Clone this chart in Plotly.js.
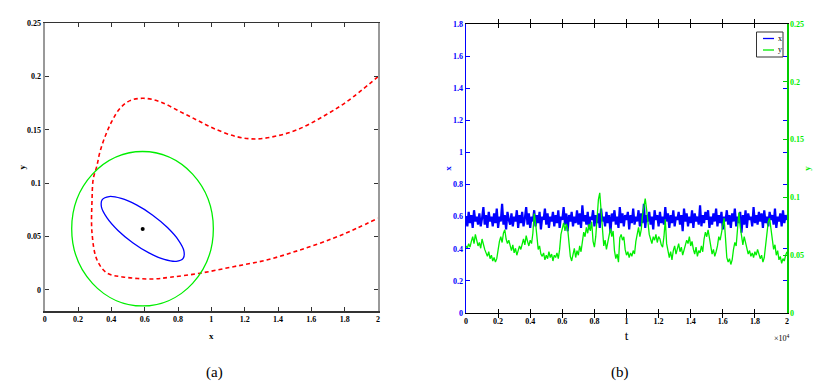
<!DOCTYPE html>
<html><head><meta charset="utf-8">
<script src="https://cdn.plot.ly/plotly-3.0.1.min.js"></script>
<style>html,body{margin:0;padding:0;background:#fff}#plot{width:833px;height:387px}</style>
</head><body><div id="plot"></div>
<script>
// ---------- Panel (a) data ----------
const redX = [2.0,1.812,1.652,1.512,1.392,1.272,1.152,1.012,0.912,0.812,0.692,0.592,0.512,0.452,0.402,0.362,0.332,0.312,0.292,0.284,0.284,0.314,0.374,0.470,0.642,0.752,0.932,1.132,1.332,1.532,1.732,1.872,2.0];
const redY = [0.200,0.1765,0.161,0.150,0.1444,0.1416,0.1437,0.1516,0.1594,0.1672,0.1765,0.1797,0.1775,0.1703,0.1578,0.1437,0.1297,0.1156,0.1047,0.0844,0.0534,0.0281,0.0159,0.0122,0.0103,0.0119,0.0157,0.0218,0.0281,0.0375,0.0485,0.0578,0.0672];
const blueEllX = [0.8308,0.7894,0.7173,0.6256,0.5281,0.4397,0.3740,0.3408,0.3453,0.3867,0.4589,0.5506,0.6481,0.7365,0.8021,0.8353,0.8308];
const blueEllY = [0.0296,0.0268,0.0286,0.0347,0.0443,0.0558,0.0676,0.0777,0.0847,0.0876,0.0858,0.0797,0.0701,0.0585,0.0468,0.0367,0.0296];
const greenEllCenter = [0.587, 0.0574];
const greenEllRadii = [0.425, 0.0724];
const equilibrium = [0.588, 0.0572];

// ---------- Panel (b) data ----------
const tMax = 2; // in units of 10^4
const xSeries = [
0.60,0.54,0.63,0.56,0.61,0.53,0.64,0.57,0.60,0.55,
0.62,0.54,0.59,0.66,0.55,0.61,0.53,0.63,0.57,0.60,
0.54,0.62,0.56,0.65,0.53,0.60,0.57,0.68,0.55,0.61,
0.52,0.63,0.58,0.55,0.62,0.54,0.60,0.57,0.64,0.53,
0.61,0.56,0.63,0.54,0.59,0.66,0.55,0.62,0.53,0.60,
0.57,0.64,0.54,0.61,0.56,0.63,0.52,0.60,0.58,0.65,
0.55,0.62,0.53,0.60,0.57,0.63,0.54,0.61,0.56,0.64,
0.53,0.60,0.58,0.66,0.55,0.62,0.51,0.61,0.57,0.63,
0.54,0.60,0.56,0.64,0.55,0.62,0.53,0.67,0.57,0.61,
0.55,0.63,0.52,0.60,0.58,0.64,0.54,0.61,0.56,0.62,
0.53,0.65,0.57,0.60,0.54,0.63,0.56,0.61,0.50,0.62,
0.57,0.64,0.55,0.60,0.53,0.66,0.56,0.62,0.54,0.61,
0.58,0.63,0.52,0.61,0.56,0.65,0.55,0.60,0.57,0.64,
0.54,0.62,0.56,0.68,0.53,0.61,0.57,0.63,0.55,0.60,
0.52,0.64,0.58,0.61,0.54,0.63,0.56,0.60,0.55,0.66,
0.57,0.62,0.53,0.61,0.56,0.64,0.54,0.60,0.58,0.63,
0.55,0.61,0.51,0.65,0.57,0.62,0.54,0.60,0.56,0.64,
0.53,0.62,0.57,0.60,0.55,0.67,0.54,0.61,0.56,0.63,
0.58,0.64,0.53,0.60,0.55,0.62,0.57,0.65,0.54,0.61,
0.56,0.63,0.52,0.60,0.57,0.64,0.55,0.61,0.53,0.62,
0.57,0.65,0.54,0.60,0.56,0.63,0.50,0.61,0.55,0.64,
0.53,0.62,0.58,0.60,0.54,0.66,0.56,0.61,0.55,0.63,
0.57,0.62,0.53,0.64,0.56,0.60,0.54,0.63,0.58,0.61,
0.55,0.65,0.53,0.60,0.57,0.62,0.54,0.64,0.56,0.61,
0.58];
const ySeries = [
0.058,0.056,0.060,0.057,0.062,0.066,0.060,0.068,0.063,0.058,
0.061,0.056,0.064,0.058,0.055,0.052,0.049,0.053,0.047,0.050,
0.045,0.048,0.044,0.047,0.055,0.062,0.066,0.061,0.069,0.072,
0.064,0.060,0.063,0.057,0.054,0.059,0.052,0.056,0.050,0.054,
0.058,0.055,0.061,0.064,0.059,0.067,0.062,0.058,0.063,0.060,
0.069,0.086,0.078,0.063,0.055,0.058,0.051,0.049,0.052,0.046,
0.050,0.047,0.053,0.048,0.051,0.045,0.050,0.048,0.052,0.047,
0.055,0.068,0.074,0.078,0.071,0.077,0.073,0.058,0.049,0.045,
0.051,0.056,0.048,0.054,0.050,0.058,0.053,0.062,0.070,0.066,
0.074,0.069,0.077,0.071,0.079,0.062,0.057,0.066,0.085,0.098,
0.104,0.090,0.070,0.058,0.063,0.055,0.061,0.068,0.073,0.066,
0.071,0.054,0.047,0.051,0.044,0.065,0.068,0.063,0.066,0.055,
0.050,0.053,0.048,0.052,0.049,0.054,0.051,0.062,0.068,0.074,
0.066,0.072,0.085,0.093,0.099,0.090,0.078,0.068,0.064,0.060,
0.066,0.063,0.068,0.061,0.066,0.064,0.059,0.057,0.066,0.081,
0.060,0.052,0.048,0.053,0.046,0.054,0.058,0.051,0.056,0.060,
0.053,0.057,0.050,0.055,0.059,0.063,0.060,0.066,0.058,0.062,
0.055,0.051,0.057,0.049,0.054,0.052,0.058,0.053,0.064,0.070,
0.066,0.072,0.065,0.056,0.051,0.055,0.049,0.053,0.058,0.066,
0.063,0.069,0.078,0.082,0.065,0.048,0.044,0.047,0.042,0.046,
0.055,0.061,0.058,0.072,0.087,0.075,0.064,0.059,0.066,0.060,
0.055,0.051,0.054,0.049,0.052,0.048,0.053,0.050,0.055,0.051,
0.047,0.050,0.044,0.048,0.058,0.070,0.079,0.082,0.074,0.062,
0.055,0.059,0.050,0.054,0.046,0.049,0.043,0.047,0.045,0.050,
0.053];
const legendNames = ['x','y'];

// ---------- layout helpers (pixel -> paper) ----------
const W = 833, H = 387;
const fx = p => p / W;
const fy = p => 1 - p / H;
const serif = 'Liberation Serif, Times New Roman, serif';
const tf = (c) => ({family: serif, size: 8, color: c, weight: 'bold'});

const traces = [
  {x: redX, y: redY, xaxis: 'x', yaxis: 'y', mode: 'lines', type: 'scatter',
   line: {color: '#ff0000', width: 1.6, dash: '4px,3px', shape: 'spline', smoothing: 1}},
  {x: blueEllX, y: blueEllY, xaxis: 'x', yaxis: 'y', mode: 'lines', type: 'scatter',
   line: {color: '#0000ff', width: 1.3, shape: 'spline', smoothing: 1}},
  {x: [equilibrium[0]], y: [equilibrium[1]], xaxis: 'x', yaxis: 'y', mode: 'markers', type: 'scatter',
   marker: {color: '#000', size: 4}},
  {y: xSeries, x0: 0, dx: tMax / (xSeries.length - 1), xaxis: 'x2', yaxis: 'y2', mode: 'lines', type: 'scatter',
   line: {color: '#0000ff', width: 2.2}},
  {y: ySeries, x0: 0, dx: tMax / (ySeries.length - 1), xaxis: 'x2', yaxis: 'y3', mode: 'lines', type: 'scatter',
   line: {color: '#00ee00', width: 1.3}}
];

const baseAx = {showgrid: false, zeroline: false, ticks: 'inside', ticklen: 4, showline: true, automargin: false};

const layout = {
  width: W, height: H, margin: {l: 0, r: 0, t: 0, b: 0},
  paper_bgcolor: '#fff', plot_bgcolor: '#fff', showlegend: false,
  xaxis: Object.assign({}, baseAx, {
    domain: [fx(44.7), fx(378)], range: [0, 2], tick0: 0, dtick: 0.2, anchor: 'y',
    linecolor: '#333', tickcolor: '#333', mirror: 'allticks', linewidth: 1.5,
    tickfont: tf('#000'),
    title: {text: 'x', font: {family: serif, size: 9, color: '#000', weight: 'bold'}, standoff: 9}
  }),
  yaxis: Object.assign({}, baseAx, {
    domain: [fy(311.3), fy(23.3)], range: [-0.02, 0.25], tick0: 0, dtick: 0.05, anchor: 'x',
    linecolor: '#999', tickcolor: '#333', mirror: 'allticks', linewidth: 2,
    tickfont: tf('#000'),
    title: {text: 'y', font: {family: serif, size: 9, color: '#000', weight: 'bold'}, standoff: 0}
  }),
  xaxis2: Object.assign({}, baseAx, {
    domain: [fx(466), fx(787)], range: [0, 2], tick0: 0, dtick: 0.2, anchor: 'y2',
    linecolor: '#000', tickcolor: '#000', mirror: 'allticks', linewidth: 1.3,
    tickfont: tf('#000'),
    title: {text: 't', font: {family: serif, size: 13, color: '#000'}, standoff: 6}
  }),
  yaxis2: Object.assign({}, baseAx, {
    domain: [fy(313), fy(24)], range: [0, 1.8], tick0: 0, dtick: 0.2, anchor: 'x2',
    linecolor: '#0000ff', tickcolor: '#0000ff', mirror: 'ticks', linewidth: 1.3,
    tickfont: tf('#0000ff'),
    title: {text: 'x', font: {family: serif, size: 9, color: '#0000ff', weight: 'bold'}, standoff: 0}
  }),
  yaxis3: Object.assign({}, baseAx, {
    overlaying: 'y2', side: 'right', range: [0, 0.25], tick0: 0, dtick: 0.05, anchor: 'x2',
    linecolor: '#00cc00', tickcolor: '#00cc00', linewidth: 1.5,
    tickfont: tf('#00ee00'),
    title: {text: 'y', font: {family: serif, size: 9, color: '#00ee00', weight: 'bold'}, standoff: 0}
  }),
  shapes: [
    {type: 'circle', xref: 'x', yref: 'y',
     x0: greenEllCenter[0] - greenEllRadii[0], x1: greenEllCenter[0] + greenEllRadii[0],
     y0: greenEllCenter[1] - greenEllRadii[1], y1: greenEllCenter[1] + greenEllRadii[1],
     line: {color: '#00ee00', width: 1.3}},
    // legend box
    {type: 'rect', xref: 'paper', yref: 'paper', x0: fx(756.5), x1: fx(783), y0: fy(57), y1: fy(32),
     line: {color: '#333', width: 1}, fillcolor: '#fff', layer: 'above'},
    {type: 'line', xref: 'paper', yref: 'paper', x0: fx(763), x1: fx(774), y0: fy(38.5), y1: fy(38.5),
     line: {color: '#0000ff', width: 1.3}, layer: 'above'},
    {type: 'line', xref: 'paper', yref: 'paper', x0: fx(763), x1: fx(774), y0: fy(50), y1: fy(50),
     line: {color: '#00ee00', width: 1.3}, layer: 'above'}
  ],
  annotations: [
    {xref: 'paper', yref: 'paper', x: fx(775.5), y: fy(38.5), text: legendNames[0], showarrow: false,
     xanchor: 'left', yanchor: 'middle', font: {family: serif, size: 8, color: '#000'}},
    {xref: 'paper', yref: 'paper', x: fx(775.5), y: fy(50), text: legendNames[1], showarrow: false,
     xanchor: 'left', yanchor: 'middle', font: {family: serif, size: 8, color: '#000'}},
    {xref: 'paper', yref: 'paper', x: fx(782), y: fy(338), text: '×10<sup>4</sup>', showarrow: false,
     xanchor: 'center', yanchor: 'middle', font: {family: serif, size: 8, color: '#000'}},
    {xref: 'paper', yref: 'paper', x: fx(214), y: fy(372), text: '(a)', showarrow: false,
     xanchor: 'center', yanchor: 'middle', font: {family: serif, size: 15, color: '#000'}},
    {xref: 'paper', yref: 'paper', x: fx(620), y: fy(372), text: '(b)', showarrow: false,
     xanchor: 'center', yanchor: 'middle', font: {family: serif, size: 15, color: '#000'}}
  ]
};

Plotly.newPlot('plot', traces, layout, {staticPlot: true, displayModeBar: false});
</script>
</body></html>
